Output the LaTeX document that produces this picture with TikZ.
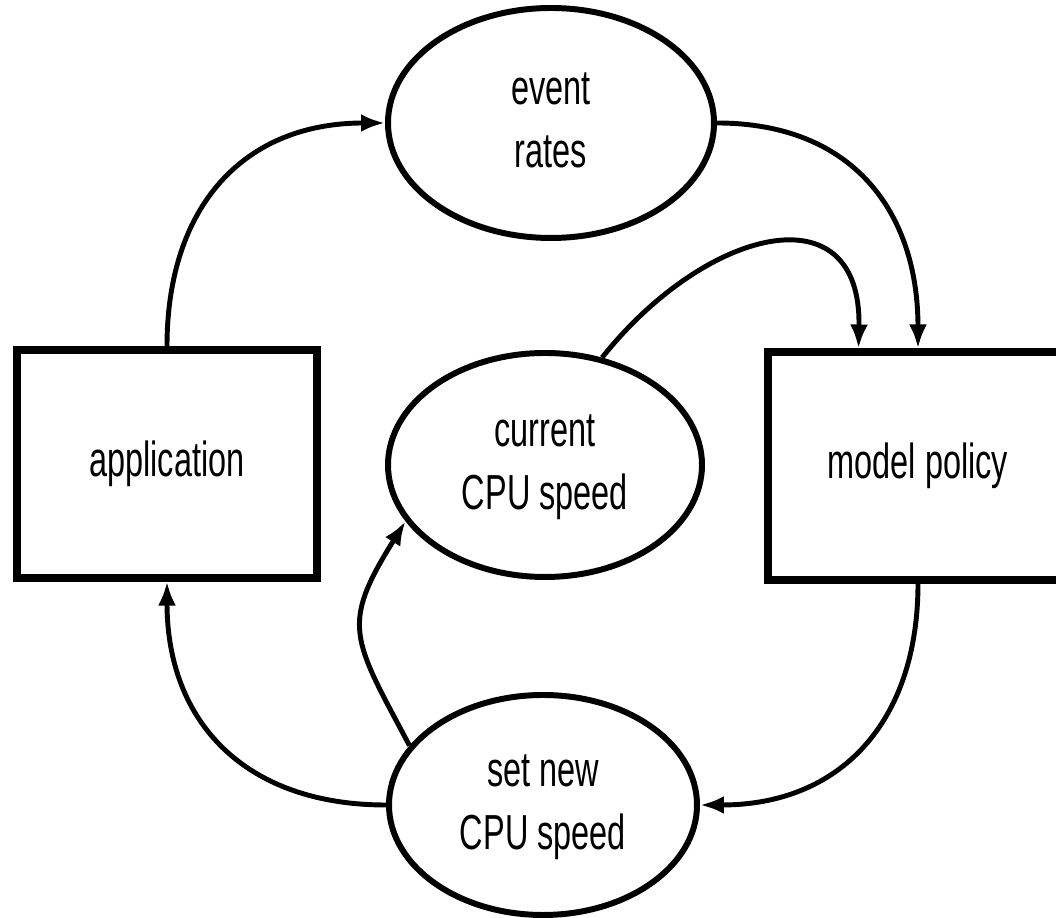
\documentclass[tikz,border=0pt]{standalone}
\usepackage{fontspec}
\setmainfont{Liberation Sans}
\usepackage{graphicx}
\usetikzlibrary{arrows.meta, positioning, calc, shapes}
\newcommand{\sqz}[1]{\scalebox{0.66}[1]{\begin{tabular}{@{}c@{}}#1\end{tabular}}}

\begin{document}
\begin{tikzpicture}[
  box/.style={draw, line width=2pt, minimum width=3cm, minimum height=2.28cm, inner sep=0pt},
  blob/.style={draw, ellipse, line width=1.7pt, inner sep=0pt},
  link/.style={line width=1.4pt, -{Latex[length=0.24cm, width=0.18cm]}},
  font=\fontsize{14}{18}\selectfont
]
  \useasboundingbox (0,0) rectangle (10.56,9.18);

  % Boxes
  \node[box] (app) at (1.67,4.54) {\sqz{application}};
  \node[box] (policy) at (9.18,4.52) {\sqz{model policy}};

  % Ellipses
  \node[blob, minimum width=3.26cm, minimum height=2.3cm] (rates) at (5.51,7.95) {\sqz{event\\rates}};
  \node[blob, minimum width=3.14cm, minimum height=2.24cm] (current) at (5.45,4.53) {\sqz{current\\CPU speed}};
  \node[blob, minimum width=3.08cm, minimum height=2.2cm] (setspeed) at (5.43,1.13) {\sqz{set new\\CPU speed}};

  % Loop
  \draw[link] (app.north) to[out=90, in=180, looseness=1.15] (rates.west);
  \draw[link] (rates.east) to[out=0, in=90, looseness=1.15] (policy.north);
  \draw[link] (current.62) .. controls (7.05,6.9) and (8.62,7.3) .. ($(policy.north west)+(0.94,0)$);
  \draw[link] (policy.south) to[out=-90, in=0, looseness=1.15] (setspeed.east);
  \draw[link] (setspeed.west) to[out=180, in=-90, looseness=1.15] (app.south);
  \draw[link] (setspeed.156) to[out=118, in=238, looseness=1.4] (current.202);

\end{tikzpicture}
\end{document}
